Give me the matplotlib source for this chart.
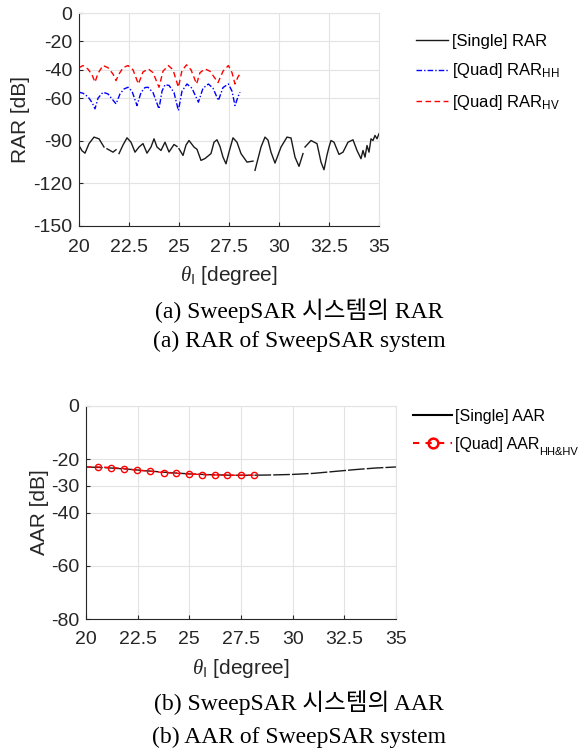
import matplotlib
matplotlib.use('Agg')
import matplotlib.pyplot as plt
from matplotlib.lines import Line2D
import numpy as np

plt.rcParams['font.family'] = ['Liberation Sans', 'DejaVu Sans']
plt.rcParams['mathtext.fontset'] = 'custom'
plt.rcParams['mathtext.rm'] = 'Liberation Sans'
plt.rcParams['mathtext.it'] = 'Liberation Serif:italic'

# --- (a) RAR data ---
nan = np.nan
rar_single_x = [20.0, 20.15, 20.3, 20.5, 20.75, 21.0, 21.25, nan, 21.4, 21.7, 21.85, nan,
                22.0, 22.2, 22.4, 22.6, 22.8, 23.0, 23.2, 23.4, 23.6, 23.75, 23.9,
                24.1, 24.3, 24.5, 24.75, 24.9, nan, 25.0, 25.2, 25.35, 25.5, 25.75, 25.9,
                26.1, 26.3, 26.6, 26.75, 26.9, 27.05, 27.2, 27.35, 27.5, 27.7, 27.9, 28.1, 28.4, 28.7,
                nan, 28.8, 29.1, 29.3, 29.45, 29.6, 29.8, 30.1, 30.4, 30.6, 30.8, 31.0,
                31.2, nan, 31.3, 31.6, 31.9, 32.1, 32.25, 32.4, 32.5, 32.6, 32.75, 33.0,
                33.2, 33.45, 33.7, 33.9, 34.1, 34.2, 34.3, 34.4, 34.5, 34.6, 34.7,
                34.8, 34.9, 35.0]
rar_single_y = [-93.3, -97.0, -98.7, -92.0, -87.4, -88.6, -94.4, nan, -95.6, -98.0, -96.3, nan,
                -99.0, -93.0, -87.9, -91.0, -98.0, -94.4, -92.0, -98.7, -94.4, -88.6, -94.4,
                -96.8, -91.0, -97.9, -92.6, -94.0, nan, -95.6, -100.3, -93.0, -89.8, -94.4, -96.0,
                -103.8, -102.5, -99.0, -91.0, -89.3, -94.0, -101.5, -106.2, -98.0, -87.9, -91.0, -99.0, -105.0, -104.3,
                nan, -110.8, -94.4, -87.4, -89.5, -98.0, -105.7, -94.4, -87.4, -88.0, -101.5, -108.0,
                -99.0, nan, -94.4, -89.8, -92.0, -105.0, -110.4, -100.0, -94.4, -89.8, -91.0, -99.6,
                -98.0, -91.0, -89.3, -96.8, -102.6, -96.8, -101.5, -93.3, -98.0, -88.6, -89.8,
                -86.2, -88.6, -85.0]

rar_hh_x = [20.0, 20.2, 20.45, 20.65, 20.8, 20.95, 21.2, 21.45, 21.65, 21.85, 22.05,
            22.25, 22.45, 22.65, 22.9, 23.1, 23.3, 23.45, 23.7, 24.0, 24.15, 24.3,
            24.5, 24.75, 24.97, 25.15, 25.4, 25.65, 25.97, 26.2, 26.47, 26.7, 26.97,
            27.2, 27.47, 27.65, 27.8, 27.95, 28.05]
rar_hh_y = [-55.8, -56.5, -59.0, -63.0, -67.5, -60.0, -55.8, -57.0, -60.5, -64.0, -57.0,
            -53.5, -52.3, -55.0, -65.2, -56.0, -52.5, -52.3, -56.0, -67.5, -55.0, -50.5,
            -51.0, -56.0, -68.7, -55.0, -50.0, -53.0, -62.8, -53.0, -50.0, -53.0, -61.6,
            -52.5, -50.0, -55.0, -65.2, -59.0, -55.8]

rar_hv_x = [20.0, 20.2, 20.45, 20.65, 20.8, 20.95, 21.2, 21.45, 21.7, 21.85, 22.0,
            22.2, 22.45, 22.7, 22.97, 23.2, 23.47, 23.7, 24.0, 24.2, 24.47, 24.7,
            24.97, 25.15, 25.38, 25.6, 25.88, 26.05, 26.3, 26.55, 26.8, 26.95, 27.2,
            27.47, 27.65, 27.8, 27.95, 28.05]
rar_hv_y = [-38.5, -37.0, -39.5, -43.5, -48.7, -42.5, -37.0, -38.5, -43.0, -47.6, -43.0,
            -38.5, -37.0, -40.0, -50.0, -41.5, -39.4, -42.0, -52.3, -41.0, -37.0, -40.0,
            -52.3, -40.5, -36.5, -40.0, -50.0, -42.0, -39.4, -41.0, -46.0, -49.0, -41.0,
            -37.0, -42.0, -50.0, -45.0, -42.9]

rar_yticks = [0, -20, -40, -60, -90, -120, -150]

# --- (b) AAR data ---
aar_single_x = [20, 21, 22, 23, 24, 25, 26, 27, 28, 29, 30, 31, 32, 33, 34, 35]
aar_single_y = [-22.9, -23.2, -23.7, -24.4, -25.0, -25.5, -25.8, -26.0, -26.0,
                -25.9, -25.7, -25.3, -24.6, -23.9, -23.3, -22.9]

aar_quad_x = [20.0, 20.58, 21.22, 21.85, 22.46, 23.1, 23.75, 24.34, 24.97,
              25.6, 26.24, 26.83, 27.48, 28.12]
aar_quad_y = [-22.9, -22.9, -23.1, -23.5, -24.1, -24.5, -25.0, -25.25, -25.5,
              -25.75, -25.9, -26.0, -26.0, -26.0]
aar_yticks = [0, -20, -30, -40, -60, -80]

xticks = [20, 22.5, 25, 27.5, 30, 32.5, 35]
xticklabels = ['20', '22.5', '25', '27.5', '30', '32.5', '35']

W, H = 582, 753
fig = plt.figure(figsize=(W / 100, H / 100), dpi=100)
TXT = '#262626'


def style_axes(ax, yticks):
    ax.set_xlim(20, 35)
    ax.set_xticks(xticks)
    ax.set_xticklabels(xticklabels)
    ax.set_yticks(yticks)
    ax.set_yticklabels([str(t) for t in yticks])
    ax.grid(True, color='#e3e3e3', linewidth=0.8)
    ax.set_axisbelow(True)
    for s in ['top', 'right']:
        ax.spines[s].set_color('#e3e3e3')
    for s in ['left', 'bottom']:
        ax.spines[s].set_color(TXT)
        ax.spines[s].set_linewidth(0.8)
    ax.tick_params(direction='in', length=3, labelsize=14, colors=TXT)
    ax.tick_params(axis='x', pad=9)
    ax.tick_params(axis='y', pad=5)
    ax.set_xlabel(r'$\theta_{\mathrm{I}}$ [degree]', fontsize=15, color=TXT, labelpad=6)


# top chart
ax1 = fig.add_axes([79 / W, 1 - 226 / H, 300 / W, 213 / H])
ax1.plot(rar_single_x, rar_single_y, color='#1a1a1a', lw=1.0, label='[Single] RAR')
ax1.plot(rar_hh_x, rar_hh_y, color='blue', lw=1.0, linestyle=(0, (4, 1.5, 1, 1.5)),
         label=r'[Quad] RAR$_{\mathrm{HH}}$')
ax1.plot(rar_hv_x, rar_hv_y, color='red', lw=1.0, linestyle=(0, (4, 2.5)),
         label=r'[Quad] RAR$_{\mathrm{HV}}$')
ax1.set_ylim(-150, 0)
style_axes(ax1, rar_yticks)
ax1.set_ylabel('RAR [dB]', fontsize=15, color=TXT, labelpad=2)
ax1.legend(loc='upper left', bbox_to_anchor=(416 / W, 1 - 34 / H), bbox_transform=fig.transFigure,
           frameon=False, fontsize=12, handlelength=1.9, handletextpad=0.25,
           labelspacing=0.75, borderaxespad=0, borderpad=0)

# bottom chart
ax2 = fig.add_axes([86 / W, 1 - 619 / H, 310 / W, 213 / H])
ax2.plot(aar_single_x, aar_single_y, color='#1a1a1a', lw=1.0, dashes=(12, 1.5))
ax2.plot(aar_quad_x, aar_quad_y, color='red', lw=1.0, linestyle=(0, (4, 2.5)),
         marker='o', markevery=list(range(1, len(aar_quad_x))), markersize=4.5,
         markerfacecolor='none', markeredgewidth=1.0)
ax2.set_ylim(-80, 0)
style_axes(ax2, aar_yticks)
ax2.set_ylabel('AAR [dB]', fontsize=15, color=TXT, labelpad=1)
h_single = Line2D([], [], color='black', lw=1.5)
h_quad = Line2D([], [], color='red', lw=1.5, linestyle=(0, (3, 3)), marker='o',
                markersize=7, markerfacecolor='none', markeredgewidth=1.8)
leg2 = ax2.legend([h_single, h_quad], ['[Single] AAR', '[Quad] AAR'], numpoints=1,
                  loc='upper left', bbox_to_anchor=(413 / W, 1 - 409 / H), bbox_transform=fig.transFigure,
                  frameon=False, fontsize=11.5, handlelength=2.45, handletextpad=0.15,
                  labelspacing=0.8, borderaxespad=0, borderpad=0)

# subscript HH&HV after the legend label (mathtext has no '&')
fig.canvas.draw()
bb = leg2.get_texts()[1].get_window_extent()
fig.text((bb.x1 + 0.5) / W, (bb.y0 - 3) / H, 'HH&HV', fontsize=8, ha='left', va='baseline')

# captions
cap_font = ['Liberation Serif', 'Noto Sans CJK KR']
fig.text(299 / W, 1 - 311 / H, '(a) SweepSAR 시스템의 RAR', ha='center', va='center',
         fontsize=17, family=cap_font)
fig.text(299 / W, 1 - 341 / H, '(a) RAR of SweepSAR system', ha='center', va='center',
         fontsize=17, family=cap_font)
fig.text(299 / W, 1 - 703 / H, '(b) SweepSAR 시스템의 AAR', ha='center', va='center',
         fontsize=17, family=cap_font)
fig.text(299 / W, 1 - 737 / H, '(b) AAR of SweepSAR system', ha='center', va='center',
         fontsize=17, family=cap_font)

fig.savefig('out.png', dpi=100)
